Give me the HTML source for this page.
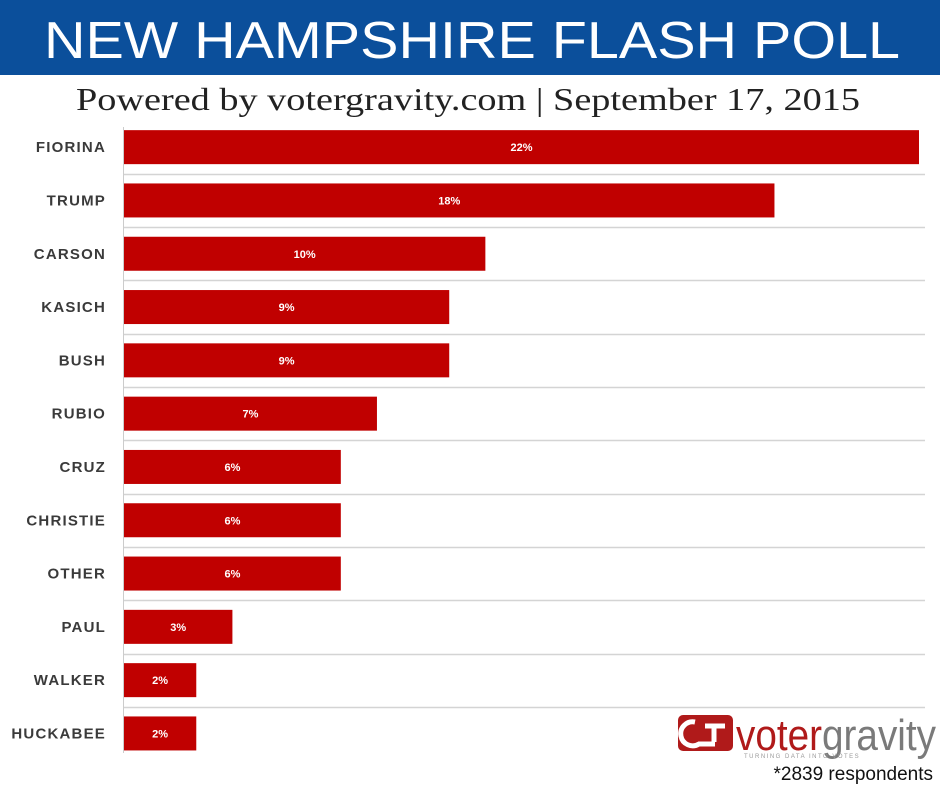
<!DOCTYPE html>
<html><head><meta charset="utf-8"><style>
html,body{margin:0;padding:0;background:#fff;width:940px;height:788px;overflow:hidden}
svg{display:block}
</style></head><body>
<svg id="chart" width="940" height="788" viewBox="0 0 940 788">
<rect x="0" y="0" width="940" height="75" fill="#0b4f9b"/>
<text x="472" y="58" text-anchor="middle" fill="#fff" font-family="Liberation Sans, sans-serif" font-size="52" textLength="856" lengthAdjust="spacingAndGlyphs">NEW HAMPSHIRE FLASH POLL</text>
<text x="468" y="110" text-anchor="middle" fill="#222" font-family="Liberation Serif, serif" font-size="32" textLength="784" lengthAdjust="spacingAndGlyphs">Powered by votergravity.com | September 17, 2015</text>
<g id="grid"></g>
<g id="bars"></g>
<line x1="123.5" y1="127" x2="123.5" y2="753" stroke="#ccc" stroke-width="1"/>
<g>
<rect x="678" y="715" width="55" height="36" rx="5" fill="#b01a1a"/>
<path d="M695 722 a12 12 0 1 0 4 22 h16 M705 726 h20 M714 726 v16" fill="none" stroke="#fff" stroke-width="5"/>
<text x="736" y="750" fill="#b01a1a" font-family="Liberation Sans, sans-serif" font-size="44" textLength="86" lengthAdjust="spacingAndGlyphs">voter</text>
<text x="822" y="750" fill="#7a7a7a" font-family="Liberation Sans, sans-serif" font-size="44" textLength="114" lengthAdjust="spacingAndGlyphs">gravity</text>
<text x="744" y="758" fill="#999" font-family="Liberation Sans, sans-serif" font-size="6" letter-spacing="1.5">TURNING DATA   INTO VOTES</text>
</g>
<text x="933" y="780" text-anchor="end" fill="#111" font-family="Liberation Sans, sans-serif" font-size="19">*2839 respondents</text>
</svg>
<script>
const candidates=["FIORINA","TRUMP","CARSON","KASICH","BUSH","RUBIO","CRUZ","CHRISTIE","OTHER","PAUL","WALKER","HUCKABEE"];
const values=[22,18,10,9,9,7,6,6,6,3,2,2];
const valueLabels=["22%","18%","10%","9%","9%","7%","6%","6%","6%","3%","2%","2%"];
const NS="http://www.w3.org/2000/svg";
const x0=124, pxPer=795/22, rowTop=120.5, rowH=53.3, barH=34;
const xs=v=>x0+v*pxPer;
const ys=i=>rowTop+i*rowH+rowH/2;
const grid=document.getElementById('grid'), bars=document.getElementById('bars');
function mk(t,a,p){const e=document.createElementNS(NS,t);for(const k in a)e.setAttribute(k,a[k]);p.appendChild(e);return e;}
for(let i=0;i<candidates.length;i++){
  const cy=ys(i);
  if(i<candidates.length-1){
    const g=mk('line',{x1:124,x2:925,y1:Math.round(cy+rowH/2)+0.5,y2:Math.round(cy+rowH/2)+0.5,stroke:'#d4d4d4','stroke-width':1.5},grid);
    
    
  }
  const r=mk('rect',{x:x0,y:cy-barH/2,width:xs(values[i])-x0,height:barH,fill:'#c00000'},bars);
  
  
  const l=mk('text',{x:106,y:cy+5,'text-anchor':'end',fill:'#3a3a3a','font-family':'Liberation Sans, sans-serif','font-size':15,'font-weight':'bold','letter-spacing':1.2},bars);
  l.textContent=candidates[i];
  
  
  const v=mk('text',{x:(x0+xs(values[i]))/2,y:cy+4,'text-anchor':'middle',fill:'#fff','font-family':'Liberation Sans, sans-serif','font-size':11,'font-weight':'bold'},bars);
  v.textContent=valueLabels[i];
  
  
}
</script>
</body></html>
